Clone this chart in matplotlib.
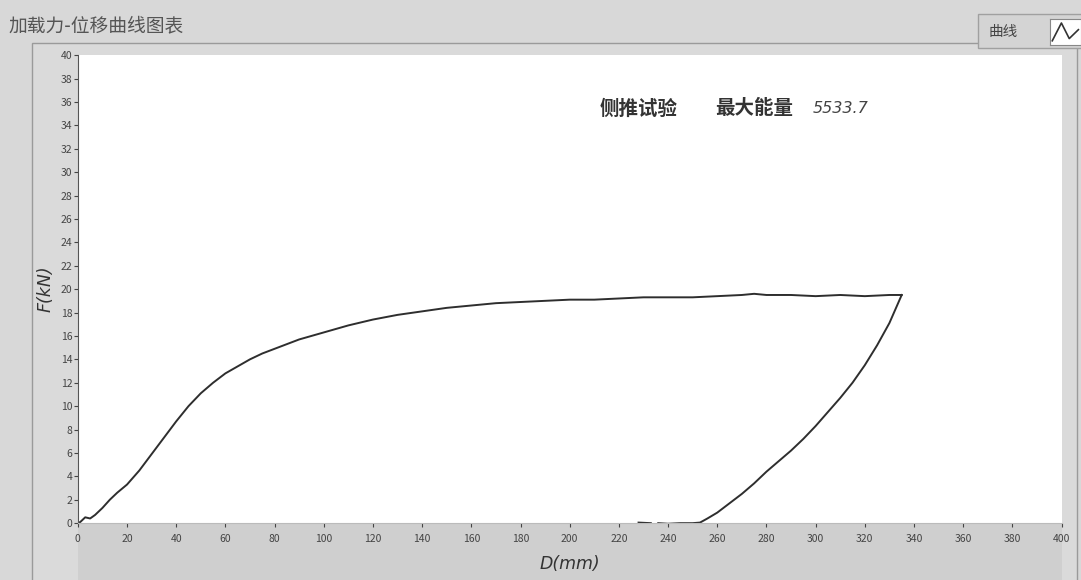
import matplotlib.pyplot as plt
from matplotlib.patches import Rectangle

plt.rcParams['font.family'] = ['Noto Sans CJK SC', 'DejaVu Sans']

# loading branch: displacement (mm) / force (kN)
load_d = [0, 1, 3, 5, 7, 10, 13, 16, 20, 25, 30, 35, 40, 45, 50, 55, 60, 65,
          70, 75, 80, 90, 100, 110, 120, 130, 140, 150, 160, 170, 180, 190,
          200, 210, 220, 230, 240, 250, 260, 270, 275, 280, 290, 300, 310,
          320, 330, 335]
load_f = [0, 0.1, 0.5, 0.4, 0.7, 1.3, 2.0, 2.6, 3.3, 4.5, 5.9, 7.3, 8.7,
          10.0, 11.1, 12.0, 12.8, 13.4, 14.0, 14.5, 14.9, 15.7, 16.3, 16.9,
          17.4, 17.8, 18.1, 18.4, 18.6, 18.8, 18.9, 19.0, 19.1, 19.1, 19.2,
          19.3, 19.3, 19.3, 19.4, 19.5, 19.6, 19.5, 19.5, 19.4, 19.5, 19.4,
          19.5, 19.5]

# unloading branch
unload_d = [335, 330, 325, 320, 315, 310, 305, 300, 295, 290, 285, 280, 275,
            270, 265, 260, 256, 253, 250, 245, 240, 236]
unload_f = [19.5, 17.1, 15.2, 13.5, 12.0, 10.7, 9.5, 8.3, 7.2, 6.2, 5.3, 4.4,
            3.4, 2.5, 1.7, 0.9, 0.4, 0.05, 0, 0, -0.05, 0]

tail_d = [228, 233]
tail_f = [0.05, 0]

x_ticks = list(range(0, 401, 20))
y_ticks = list(range(0, 41, 2))

test_name = '侧推试验'
energy_label = '最大能量'
max_energy = 5533.7

fig = plt.figure(figsize=(10.81, 5.80), dpi=100)
fig.patch.set_facecolor('#d8d8d8')

# panel frame, kept behind the axes
fig.patches.append(Rectangle((0.03, -0.01), 0.966, 0.935, transform=fig.transFigure,
                             facecolor='#dadada', edgecolor='#9a9a9a', lw=1.0,
                             zorder=-5))
fig.patches.append(Rectangle((0.072, 0.0), 0.91, 0.098, transform=fig.transFigure,
                             facecolor='#cfcfcf', edgecolor='none', zorder=-4))

fig.text(0.008, 0.955, '加载力-位移曲线图表', fontsize=13.5, color='#555555',
         ha='left', va='center')

# legend box
fig.patches.append(Rectangle((0.905, 0.918), 0.1, 0.058, transform=fig.transFigure,
                             facecolor='#d4d4d4', edgecolor='#a0a0a0', lw=1.0,
                             zorder=-3))
fig.text(0.914, 0.945, '曲线', fontsize=10.5, color='#444444', ha='left', va='center')
icon = fig.add_axes([0.971, 0.922, 0.029, 0.046])
icon.set_facecolor('white')
icon.plot([0, 0.35, 0.65, 1], [0.1, 0.9, 0.2, 0.6], color='#333333', lw=1.2)
icon.set_xlim(-0.1, 1.1)
icon.set_ylim(-0.1, 1.1)
icon.set_xticks([])
icon.set_yticks([])
for s in icon.spines.values():
    s.set_color('#888888')

ax = fig.add_axes([0.072, 0.098, 0.91, 0.807])
ax.set_facecolor('white')
ax.plot(load_d, load_f, color='#2e2e2e', lw=1.4)
ax.plot(unload_d, unload_f, color='#2e2e2e', lw=1.4)
ax.plot(tail_d, tail_f, color='#2e2e2e', lw=1.4)

ax.set_xlim(0, 400)
ax.set_ylim(0, 40)
ax.set_xticks(x_ticks)
ax.set_yticks(y_ticks)
ax.tick_params(axis='both', labelsize=7.5, colors='#444444', length=3, width=0.8)
ax.tick_params(axis='x', pad=5)
ax.tick_params(axis='y', pad=1)

for side in ['top', 'right']:
    ax.spines[side].set_visible(False)
ax.spines['left'].set_color('#555555')
ax.spines['bottom'].set_color('#bbbbbb')

ax.set_xlabel('D(mm)', fontsize=12.5, style='italic', color='#333333',
              family=['DejaVu Sans'], labelpad=8)
ax.set_ylabel('F(kN)', fontsize=12.5, style='italic', color='#333333',
              family=['DejaVu Sans'], labelpad=4)

ax.text(0.53, 0.885, test_name, transform=ax.transAxes, fontsize=14,
        fontweight='bold', color='#333333', ha='left', va='center')
ax.text(0.648, 0.885, energy_label, transform=ax.transAxes, fontsize=14,
        fontweight='bold', color='#333333', ha='left', va='center')
ax.text(0.747, 0.885, f'{max_energy}', transform=ax.transAxes, fontsize=11.5,
        style='italic', color='#444444', ha='left', va='center',
        family=['DejaVu Sans'])

fig.savefig('out.png', dpi=100, facecolor=fig.get_facecolor())
